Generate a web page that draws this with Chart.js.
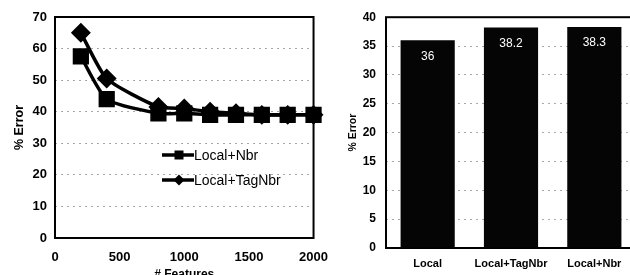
<!DOCTYPE html>
<html>
<head>
<meta charset="utf-8">
<script src="https://cdn.jsdelivr.net/npm/chart.js@4"></script>
<style>
  html, body { margin: 0; padding: 0; background: #fff; overflow: hidden; width: 630px; height: 275px; }
  #left { position: absolute; left: 0; top: 0; width: 340px; height: 285px; }
  #right { position: absolute; left: 330px; top: 0; width: 310px; height: 275px; }
</style>
</head>
<body>
<div id="left"><canvas id="lineChart"></canvas></div>
<div id="right"><canvas id="barChart"></canvas></div>
<script>
// data
const featureCounts = [200, 400, 800, 1000, 1200, 1400, 1600, 1800, 2000];
const localNbr = [57.5, 44, 39.5, 39.5, 39, 39, 39, 39, 39];
const localTagNbr = [65, 50.5, 41.5, 41, 40, 39.5, 39, 39, 39];
const lineSeriesNames = ["Local+Nbr", "Local+TagNbr"];

const barCategories = ["Local", "Local+TagNbr", "Local+Nbr"];
const barValues = [36, 38.2, 38.3];
const barValueLabels = ["36", "38.2", "38.3"];

const FONT = '"Liberation Sans", Arial, sans-serif';
Chart.defaults.font.family = FONT;
Chart.defaults.color = "#000";

// black frame around the plot area
const plotBox = {
  id: "plotBox",
  beforeDatasetsDraw(chart) {
    const a = chart.chartArea;
    const ctx = chart.ctx;
    ctx.save();
    ctx.setLineDash([]);
    ctx.strokeStyle = "#000";
    ctx.lineWidth = 2;
    ctx.strokeRect(a.left, a.top, a.right - a.left, a.bottom - a.top);
    ctx.restore();
  }
};

function marker(ctx, style, x, y, r) {
  ctx.beginPath();
  if (style === "rect") {
    ctx.rect(x - r, y - r, 2 * r, 2 * r);
  } else {
    ctx.moveTo(x - r, y);
    ctx.lineTo(x, y - r);
    ctx.lineTo(x + r, y);
    ctx.lineTo(x, y + r);
    ctx.closePath();
  }
  ctx.fill();
}

// legend sits inside the plot, like the original
const insideLegend = {
  id: "insideLegend",
  afterDraw(chart) {
    const ctx = chart.ctx;
    const rows = [155, 180];
    chart.data.datasets.forEach((ds, i) => {
      const y = rows[i];
      ctx.save();
      ctx.strokeStyle = "#000";
      ctx.fillStyle = "#000";
      ctx.lineWidth = 3.5;
      ctx.beginPath();
      ctx.moveTo(162, y);
      ctx.lineTo(194, y);
      ctx.stroke();
      marker(ctx, ds.pointStyle, 179, y, ds.pointStyle === "rect" ? 4.5 : 5.5);
      ctx.font = "14px " + FONT;
      ctx.textBaseline = "middle";
      ctx.fillText(ds.label, 194, y + 1);
      ctx.restore();
    });
  }
};

const barLabels = {
  id: "barLabels",
  afterDatasetsDraw(chart) {
    const ctx = chart.ctx;
    const meta = chart.getDatasetMeta(0);
    ctx.save();
    ctx.fillStyle = "#fff";
    ctx.font = "12px " + FONT;
    ctx.textAlign = "center";
    ctx.textBaseline = "middle";
    meta.data.forEach((bar, i) => {
      ctx.fillText(barValueLabels[i], bar.x, bar.y + 16);
    });
    ctx.restore();
  }
};

new Chart(document.getElementById("lineChart"), {
  type: "line",
  data: {
    datasets: [
      {
        label: lineSeriesNames[0],
        data: featureCounts.map((f, i) => ({ x: f, y: localNbr[i] })),
        borderColor: "#000",
        backgroundColor: "#000",
        borderWidth: 3.5,
        pointStyle: "rect",
        pointRadius: 9,
        pointHoverRadius: 9,
        tension: 0.2,
        clip: false
      },
      {
        label: lineSeriesNames[1],
        data: featureCounts.map((f, i) => ({ x: f, y: localTagNbr[i] })),
        borderColor: "#000",
        backgroundColor: "#000",
        borderWidth: 3.5,
        pointStyle: "rectRot",
        pointRadius: 7.5,
        pointHoverRadius: 7.5,
        tension: 0.2,
        clip: false
      }
    ]
  },
  options: {
    responsive: true,
    maintainAspectRatio: false,
    animation: false,
    layout: { padding: { top: 17, right: 22, left: 0, bottom: 0 } },
    plugins: { legend: { display: false }, tooltip: { enabled: false } },
    scales: {
      x: {
        type: "linear",
        min: 0,
        max: 2000,
        grid: { display: false, drawTicks: false },
        border: { display: false },
        ticks: {
          stepSize: 500, padding: 12, font: { size: 13, weight: "bold" }, color: "#000", maxRotation: 0,
          callback: (v) => String(v)
        },
        title: { display: true, text: "# Features", font: { size: 12, weight: "bold" }, color: "#000", padding: { top: 0, bottom: 3 } },
        afterFit(s) { s.height = 47; }
      },
      y: {
        min: 0,
        max: 70,
        grid: { color: "#a8a8a8", lineWidth: 1, drawTicks: false },
        border: { display: false, dash: [2, 4] },
        ticks: { stepSize: 10, padding: 8, font: { size: 13, weight: "bold" }, color: "#000" },
        title: { display: true, text: "% Error", font: { size: 12.5, weight: "bold" }, color: "#000", padding: { top: 12, bottom: 0 } },
        afterFit(s) { s.width = 55; }
      }
    }
  },
  plugins: [plotBox, insideLegend]
});

new Chart(document.getElementById("barChart"), {
  type: "bar",
  data: {
    labels: barCategories,
    datasets: [
      {
        label: "% Error",
        data: barValues,
        backgroundColor: "#050505",
        borderWidth: 0,
        barPercentage: 0.65,
        categoryPercentage: 1
      }
    ]
  },
  options: {
    responsive: true,
    maintainAspectRatio: false,
    animation: false,
    layout: { padding: { top: 17, right: 4, left: 0, bottom: 0 } },
    plugins: { legend: { display: false }, tooltip: { enabled: false } },
    scales: {
      x: {
        grid: { display: false, drawTicks: false },
        border: { display: false },
        ticks: { padding: 9, font: { size: 11, weight: "bold" }, color: "#000", maxRotation: 0 },
        afterFit(s) { s.height = 27; }
      },
      y: {
        min: 0,
        max: 40,
        grid: { color: "#a8a8a8", lineWidth: 1, drawTicks: false },
        border: { display: false, dash: [2, 4] },
        ticks: { stepSize: 5, padding: 10, font: { size: 12, weight: "bold" }, color: "#000" },
        title: { display: true, text: "% Error", font: { size: 10.5, weight: "bold" }, color: "#000", padding: { top: 17, bottom: 0 } },
        afterFit(s) { s.width = 56; }
      }
    }
  },
  plugins: [plotBox, barLabels]
});
</script>
</body>
</html>
